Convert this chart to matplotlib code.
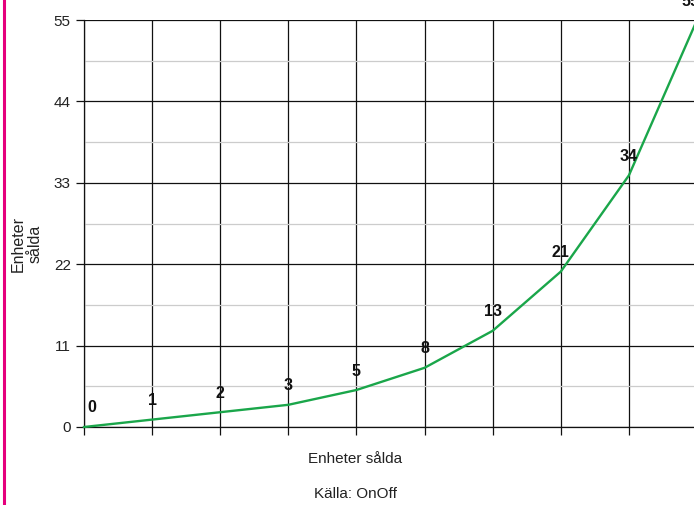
import matplotlib
matplotlib.use("Agg")
import matplotlib.pyplot as plt
from matplotlib.lines import Line2D

plt.rcParams["font.family"] = ["Liberation Sans", "DejaVu Sans"]

# data
steps = [0, 1, 2, 3, 4, 5, 6, 7, 8, 9]
units = [0, 1, 2, 3, 5, 8, 13, 21, 34, 55]
y_ticks = [0, 11, 22, 33, 44, 55]

LINE_COLOR = "#1aa64a"
MAGENTA = "#e5007d"
PX = 0.72  # points per pixel at dpi 100

fig = plt.figure(figsize=(6.94, 5.05), dpi=100)
# right edge of plot runs off the picture, like the original
ax = fig.add_axes([84 / 694, 1 - 427 / 505, 613 / 694, 407 / 505])

ax.set_xlim(steps[0], steps[-1])
ax.set_ylim(0, 55)
ax.set_xticks(steps)
ax.set_xticklabels([])
ax.set_yticks(y_ticks)
ax.set_yticks([v + 5.5 for v in y_ticks[:-1]], minor=True)

ax.grid(True, which="major", color="#111111", linewidth=0.9)
ax.grid(True, which="minor", axis="y", color="#cccccc", linewidth=0.9)
ax.set_axisbelow(True)

for side in ("top", "right"):
    ax.spines[side].set_visible(False)
for side in ("left", "bottom"):
    ax.spines[side].set_color("#111111")
    ax.spines[side].set_linewidth(0.9)

ax.tick_params(axis="both", which="major", direction="out", length=6,
               width=0.9, color="#111111", labelsize=11, labelcolor="#222222")
ax.tick_params(axis="y", which="minor", length=0)

ax.plot(steps, units, color=LINE_COLOR, linewidth=1.7, clip_on=False, zorder=3)

# value labels sit ~19px above each point; first one nudged right, last one left
for i, (x, y) in enumerate(zip(steps, units)):
    dx = 8 if i == 0 else (-7 if i == len(steps) - 1 else 0)
    ax.annotate(str(y), (x, y), xytext=(dx * PX, 19 * PX), textcoords="offset points",
                ha="center", va="center", fontsize=11.5, fontweight="bold",
                color="#111111", annotation_clip=False, zorder=4)

fig.text(355 / 694, 1 - 459 / 505, "Enheter sålda", ha="center", va="center",
         fontsize=11, color="#222222")
fig.text(355 / 694, 1 - 494 / 505, "Källa: OnOff", ha="center", va="center",
         fontsize=11, color="#222222")
fig.text(27 / 694, 1 - 244 / 505, "Enheter\nsålda", ha="center", va="center",
         rotation=90, fontsize=11.5, color="#222222", linespacing=1.15)

fig.add_artist(Line2D([3.5 / 694, 3.5 / 694], [0, 1], color=MAGENTA,
                      linewidth=2.2, transform=fig.transFigure))

fig.savefig("out.png", dpi=100)
